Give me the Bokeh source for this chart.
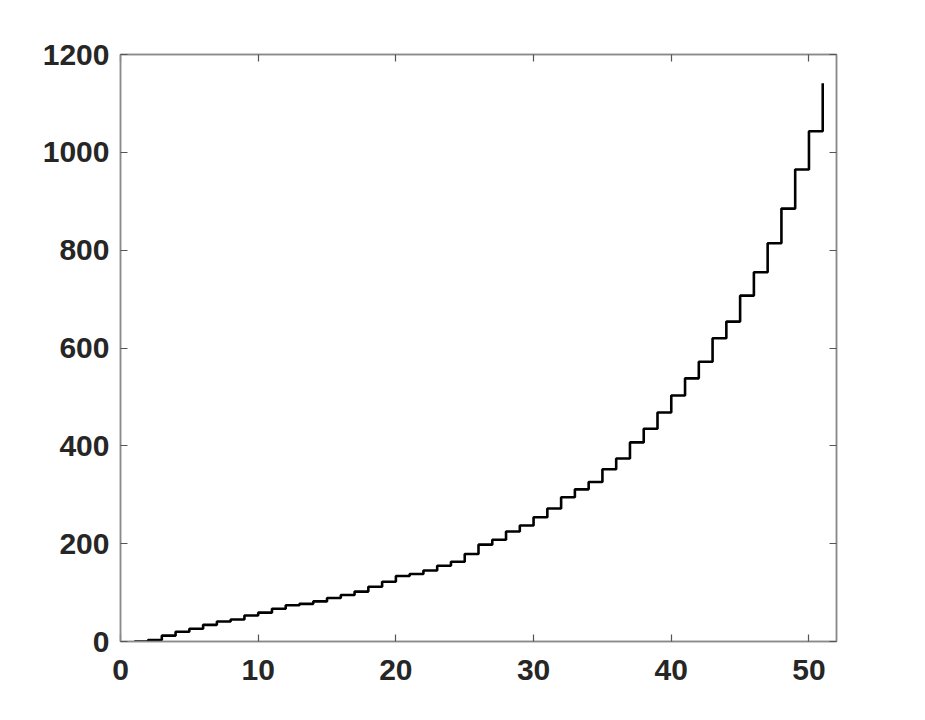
from bokeh.plotting import figure
from bokeh.models import LinearAxis, FixedTicker, Range1d
from bokeh.embed import file_html
from bokeh.resources import INLINE

x_vals = list(range(1, 52))
y_vals = [0, 3, 12, 20, 26, 34, 41, 45, 53, 59,
          67, 74, 77, 82, 89, 95, 102, 112, 122, 134,
          138, 145, 155, 163, 179, 198, 208, 225, 237, 254,
          272, 295, 311, 326, 352, 374, 407, 435, 468, 503,
          538, 572, 620, 654, 707, 755, 814, 885, 965, 1043, 1141]
x_ticks = [0, 10, 20, 30, 40, 50]
y_ticks = [0, 200, 400, 600, 800, 1000, 1200]

p = figure(width=908, height=708, output_backend="svg", toolbar_location=None,
           x_range=Range1d(0, 52), y_range=Range1d(0, 1200),
           min_border_left=120, min_border_right=72, min_border_top=54, min_border_bottom=67,
           frame_width=716, frame_height=587)
p.background_fill_color = "white"
p.border_fill_color = "white"
p.xgrid.visible = False
p.ygrid.visible = False
p.outline_line_color = "#8a8a8a"
p.outline_line_width = 1.5

p.step(x_vals, y_vals, mode="after", line_color="black", line_width=2.6)

def style(ax, ticks, labels=True, standoff=10):
    ax.ticker = FixedTicker(ticks=ticks)
    ax.axis_line_color = "#8a8a8a"
    ax.axis_line_width = 1.5
    ax.major_tick_in = 7
    ax.major_tick_out = 0
    ax.major_tick_line_color = "#555555"
    ax.major_tick_line_width = 1.2
    ax.minor_tick_line_color = None
    ax.major_label_text_font = "Liberation Sans"
    ax.major_label_text_font_style = "bold"
    ax.major_label_text_font_size = "30px"
    ax.major_label_text_color = "#262626"
    ax.major_label_standoff = standoff
    if not labels:
        ax.major_label_text_font_size = "0px"
        ax.major_label_text_color = None

style(p.xaxis[0], x_ticks, standoff=18)
style(p.yaxis[0], y_ticks, standoff=11)

top = LinearAxis()
right = LinearAxis()
style(top, x_ticks, labels=False, standoff=0)
style(right, y_ticks, labels=False, standoff=0)
p.add_layout(top, "above")
p.add_layout(right, "right")

open("out.html", "w").write(file_html(p, INLINE))
